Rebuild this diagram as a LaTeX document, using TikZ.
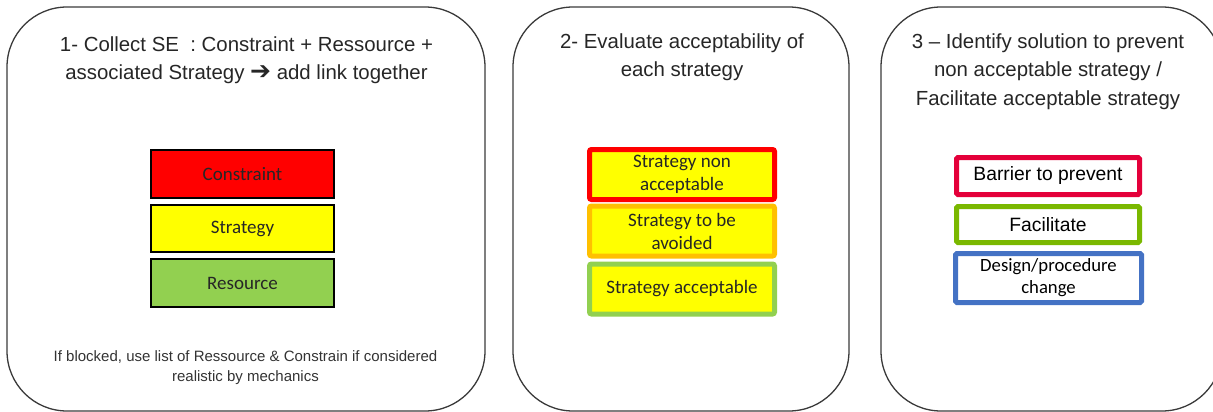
\documentclass[tikz,border=0pt]{standalone}
\usepackage{fontspec}
\setmainfont{Liberation Sans}
\newfontfamily\calib{Carlito}
\newfontfamily\dejavu{DejaVu Sans}
\definecolor{titlegray}{HTML}{262626}
\definecolor{notegray}{HTML}{333333}
\definecolor{panelline}{HTML}{3A3A3A}
\definecolor{cred}{HTML}{FF0000}
\definecolor{cyellow}{HTML}{FFFF00}
\definecolor{cgreen}{HTML}{92D050}
\definecolor{corange}{HTML}{FFC000}
\definecolor{bred}{HTML}{E4003A}
\definecolor{bgreen}{HTML}{7AB800}
\definecolor{bblue}{HTML}{4472C4}
\tikzset{
  panel/.style={draw=panelline, line width=1.3pt, rounded corners=60pt},
  title/.style={align=center, text=titlegray, font=\fontsize{20.4}{28.5}\selectfont},
  note/.style={align=center, text=notegray, font=\fontsize{15}{20}\selectfont},
  seBox/.style={draw=black, line width=2pt, minimum width=183pt, inner sep=0pt, text=black!85, font=\calib\fontsize{19}{20}\selectfont},
  evBox/.style={line width=5pt, rounded corners=2pt, fill=cyellow, minimum width=185pt, minimum height=50pt, inner sep=0pt, align=center, text=black!85, font=\calib\fontsize{19}{23}\selectfont},
  solBox/.style={line width=5pt, rounded corners=1.5pt, fill=white, inner sep=0pt, align=center, text=black},
}
\begin{document}
\begin{tikzpicture}[x=1pt,y=-1pt]
\useasboundingbox (0,0) rectangle (1213,412);
\begin{scope}
\clip (0,0) rectangle (1213,412);
% panels
\draw[panel] (7,7) rectangle (485,411);
\draw[panel] (513,7) rectangle (849,411);
\draw[panel] (881,7) rectangle (1222,411);
\end{scope}
% panel 1
\node[title] (t1) at (246.5,60) {1- Collect SE\ \ : Constraint + Ressource +\\associated Strategy {\dejavu\fontsize{25}{20}\selectfont ➔} add link together};
\node[seBox, fill=cred, minimum height=48pt] (con) at (242.5,174) {Constraint};
\node[seBox, fill=cyellow, minimum height=47pt] (str) at (242.5,228.5) {Strategy};
\node[seBox, fill=cgreen, minimum height=48pt] (res) at (242.5,283) {Resource};
\node[note] (n1) at (245.5,368) {If blocked, use list of Ressource \& Constrain if considered\\realistic by mechanics};
% panel 2
\node[title] (t2) at (682,57) {2- Evaluate acceptability of\\each strategy};
\node[evBox, draw=cred] (nonacc) at (682,174.5) {Strategy non\\acceptable};
\node[evBox, draw=corange] (avoid) at (682,231) {Strategy to be\\avoided};
\node[evBox, draw=cgreen] (acc) at (682,289) {Strategy acceptable};
% panel 3
\node[title] (t3) at (1048,71.5) {3 -- Identify solution to prevent\\non acceptable strategy /\\Facilitate acceptable strategy};
\node[solBox, draw=bred, minimum width=183pt, minimum height=37pt, font=\fontsize{19.3}{20}\selectfont] (bar) at (1048,176) {Barrier to prevent};
\node[solBox, draw=bgreen, minimum width=183pt, minimum height=36pt, font=\fontsize{19.3}{20}\selectfont] (fac) at (1048,224.5) {Facilitate};
\node[solBox, draw=bblue, minimum width=186pt, minimum height=49pt, font=\calib\fontsize{18.7}{22}\selectfont] (des) at (1048.5,278) {Design/procedure\\change};
\end{tikzpicture}
\end{document}
